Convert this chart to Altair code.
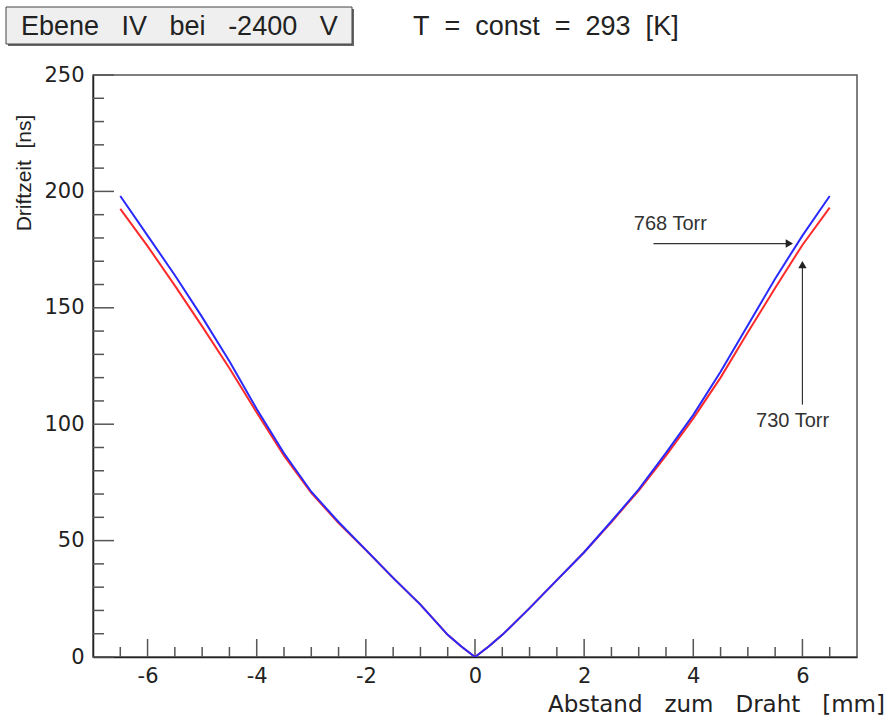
import altair as alt
import pandas as pd

# ---- data ----
x_mm = [-6.5, -6, -5.5, -5, -4.5, -4, -3.5, -3, -2.5, -2, -1.5, -1, -0.5, -0.25, 0,
        0.25, 0.5, 1, 1.5, 2, 2.5, 3, 3.5, 4, 4.5, 5, 5.5, 6, 6.5]
drift_768 = [198, 181, 164, 146, 127, 106.5, 87.5, 71, 58, 46, 34, 22.5, 9.5, 4.5, 0,
             4.5, 9.5, 21, 33, 45, 58.3, 72, 87.7, 104, 122.5, 142.5, 162.5, 181, 198]
drift_730 = [192.5, 176.5, 159.5, 142, 124, 105, 86.5, 70.5, 57.5, 46, 34, 22.5, 9.5, 4.5, 0,
             4.5, 9.5, 21, 33, 45, 58, 71.5, 86.5, 102.5, 120, 139.5, 158.5, 177, 193]
series_names = ["730 Torr", "768 Torr"]
series_colors = ["#ff2a2a", "#2a2aff"]

x_major = [-6, -4, -2, 0, 2, 4, 6]
x_minor = [-6.5, -5.5, -5, -4.5, -3.5, -3, -2.5, -1.5, -1, -0.5,
           0.5, 1, 1.5, 2.5, 3, 3.5, 4.5, 5, 5.5, 6.5]
y_major = [0, 50, 100, 150, 200, 250]
y_minor = [10, 20, 30, 40, 60, 70, 80, 90, 110, 120, 130, 140,
           160, 170, 180, 190, 210, 220, 230, 240]

ann_text = ["768 Torr", "730 Torr"]
ann_x = [3.58, 5.82]
ann_y = [186, 101.5]
arrow_x = [3.27, 6.0]
arrow_x2 = [5.8, 6.0]
arrow_y = [177.6, 108.4]
arrow_y2 = [177.6, 169.5]
head_x = [5.76, 6.0]
head_y = [177.6, 168.5]
head_shape = ["triangle-right", "triangle-up"]

W, H = 764, 582
NB = "\u00a0"

rows = []
for name, vals in zip(series_names, [drift_730, drift_768]):
    for xv, yv in zip(x_mm, vals):
        rows.append({"x": xv, "y": yv, "series": name})
df = pd.DataFrame(rows)

xs = alt.Scale(domain=[-7, 7], nice=False, zero=False)
ys = alt.Scale(domain=[0, 250], nice=False)

FONT = "DejaVu Sans"

lines = alt.Chart(df).mark_line(strokeWidth=2, clip=True).encode(
    x=alt.X("x:Q", scale=xs, axis=alt.Axis(
        values=x_major, tickSize=0, labelPadding=8, grid=False, title=None,
        labelExpr="'' + datum.value",
        labelFont=FONT, labelFontSize=21, labelColor="#222",
        domainColor="#222", domainWidth=1.5)),
    y=alt.Y("y:Q", scale=ys, axis=alt.Axis(
        values=y_major, tickSize=0, labelPadding=9, grid=False, title=None,
        labelFont=FONT, labelFontSize=21, labelColor="#222",
        domainColor="#222", domainWidth=1.5)),
    color=alt.Color("series:N", scale=alt.Scale(domain=series_names, range=series_colors), legend=None),
    order=alt.Order("x:Q"),
    detail="series:N",
)

tick_col = "#555"
xmaj = alt.Chart(pd.DataFrame({"t": x_major})).mark_rule(color=tick_col, strokeWidth=1.5).encode(
    x=alt.X("t:Q", scale=xs), y=alt.value(H), y2=alt.value(H - 18))
xmin = alt.Chart(pd.DataFrame({"t": x_minor})).mark_rule(color=tick_col, strokeWidth=1.5).encode(
    x=alt.X("t:Q", scale=xs), y=alt.value(H), y2=alt.value(H - 10))
ymaj = alt.Chart(pd.DataFrame({"t": y_major})).mark_rule(color=tick_col, strokeWidth=1.5).encode(
    y=alt.Y("t:Q", scale=ys), x=alt.value(0), x2=alt.value(21))
ymin = alt.Chart(pd.DataFrame({"t": y_minor})).mark_rule(color=tick_col, strokeWidth=1.5).encode(
    y=alt.Y("t:Q", scale=ys), x=alt.value(0), x2=alt.value(11))

ann_df = pd.DataFrame({"text": ann_text, "x": ann_x, "y": ann_y})
ann = alt.Chart(ann_df).mark_text(font="Liberation Sans", fontSize=20, color="#333").encode(
    x=alt.X("x:Q", scale=xs), y=alt.Y("y:Q", scale=ys), text="text:N")

arr_df = pd.DataFrame({"x": arrow_x, "x2": arrow_x2, "y": arrow_y, "y2": arrow_y2})
arrows = alt.Chart(arr_df).mark_rule(color="#333", strokeWidth=1.2).encode(
    x=alt.X("x:Q", scale=xs), x2="x2:Q", y=alt.Y("y:Q", scale=ys), y2="y2:Q")

head_df = pd.DataFrame({"x": head_x, "y": head_y, "shape": head_shape})
heads = alt.Chart(head_df).mark_point(filled=True, size=70, color="#222", opacity=1).encode(
    x=alt.X("x:Q", scale=xs), y=alt.Y("y:Q", scale=ys),
    shape=alt.Shape("shape:N", scale=None))

one = pd.DataFrame({"a": [0]})
box_shadow = alt.Chart(one).mark_rect(fill="#666", stroke=None).encode(
    x=alt.value(-85), x2=alt.value(261), y=alt.value(-66), y2=alt.value(-29))
box = alt.Chart(one).mark_rect(fill="#efefef", stroke="#444", strokeWidth=1).encode(
    x=alt.value(-87), x2=alt.value(259), y=alt.value(-68), y2=alt.value(-31))
box_text = alt.Chart(one).mark_text(
    text="Ebene" + NB * 3 + "IV" + NB * 3 + "bei" + NB * 3 + "-2400" + NB * 3 + "V",
    font="Liberation Sans", fontSize=27, color="#222", align="left", baseline="middle").encode(
    x=alt.value(-72), y=alt.value(-48))
temp_text = alt.Chart(one).mark_text(
    text="T" + NB * 2 + "=" + NB * 2 + "const" + NB * 2 + "=" + NB * 2 + "293" + NB * 2 + "[K]",
    font="Liberation Sans", fontSize=27, color="#222", align="left", baseline="middle").encode(
    x=alt.value(320), y=alt.value(-48))
ytitle = alt.Chart(one).mark_text(
    text="Driftzeit" + NB * 2 + "[ns]", font="Liberation Sans", fontSize=21, color="#222",
    angle=270, align="center", baseline="middle").encode(
    x=alt.value(-68), y=alt.value(98))
xtitle = alt.Chart(one).mark_text(
    text="Abstand" + NB * 3 + "zum" + NB * 3 + "Draht" + NB * 3 + "[mm]", font=FONT, fontSize=23,
    color="#222", align="right", baseline="middle").encode(
    x=alt.value(792), y=alt.value(630))

chart = alt.layer(
    xmaj, xmin, ymaj, ymin, lines, arrows, heads, ann,
    box_shadow, box, box_text, temp_text, ytitle, xtitle
).properties(
    width=W, height=H,
    padding={"left": 93, "top": 75, "right": 31, "bottom": 62},
    autosize=alt.AutoSizeParams(type="none"),
    background="white",
).configure_view(stroke="#555", strokeWidth=1.5)

chart.save("out.html", embed_options={"renderer": "svg", "actions": False})
